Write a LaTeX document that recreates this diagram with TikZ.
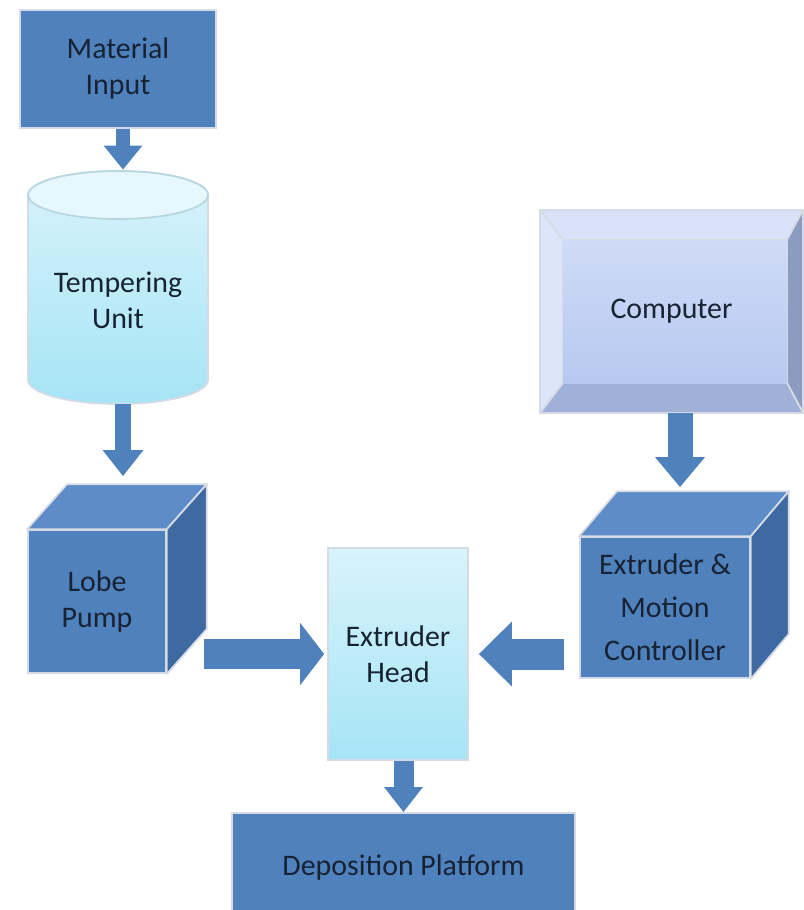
\documentclass[tikz,border=0pt]{standalone}
\usepackage{fontspec}
\setmainfont{Carlito}
\usepackage{tikz}
\usetikzlibrary{positioning}
\usetikzlibrary{calc, arrows.meta}

\definecolor{boxblue}{HTML}{4F81BD}
\definecolor{boxtop}{HTML}{5D8CC8}
\definecolor{boxside}{HTML}{3F69A1}
\definecolor{edgegrey}{HTML}{D5DBE4}
\definecolor{labelink}{HTML}{172233}
\definecolor{cyanlight}{HTML}{D8F3FB}
\definecolor{cyandeep}{HTML}{A6E4F6}
\definecolor{cyanlid}{HTML}{E6F8FD}
\definecolor{lidedge}{HTML}{B8D6E0}
\definecolor{pclight}{HTML}{CFDBF7}
\definecolor{pcdeep}{HTML}{B7C9F0}
\definecolor{bevtop}{HTML}{D8E2F9}
\definecolor{bevleft}{HTML}{DCE6FB}
\definecolor{bevright}{HTML}{8C9CC0}
\definecolor{bevbottom}{HTML}{A0B1D9}

\tikzstyle{blocktext} = [text=labelink, font=\fontsize{17}{20.5}\selectfont, align=center]
\tikzstyle{darkbox} = [rectangle, fill=boxblue, draw=edgegrey, line width=1pt, inner sep=0pt, blocktext]
\tikzstyle{lightbox} = [rectangle, top color=cyanlight, bottom color=cyandeep, draw=edgegrey, line width=1pt, inner sep=0pt, blocktext]
\tikzstyle{cubeedge} = [draw=edgegrey, line width=1pt, line join=round]
\tikzset{blockarrow/.style n args={3}{draw=boxblue, line width=#1, -{Triangle[width=#2, length=#3]}}}

\begin{document}
\begin{tikzpicture}[x=0.02cm, y=-0.02cm]
	\useasboundingbox (0,0) rectangle (804,910);
	\clip (0,0) rectangle (804,910);

	%Cylinder
	\filldraw[top color=cyanlight, bottom color=cyandeep, draw=edgegrey, line width=1pt]
		(28,195) -- (28,380) arc[start angle=180, end angle=360, x radius=1.8cm, y radius=0.48cm]
		-- (208,195) arc[start angle=0, end angle=180, x radius=1.8cm, y radius=0.48cm] -- cycle;
	\filldraw[fill=cyanlid, draw=lidedge, line width=1pt] (118,195) ellipse [x radius=1.8cm, y radius=0.48cm];

	%Bevel
	\filldraw[cubeedge, fill=bevtop] (540,210) -- (803,210) -- (787,240) -- (563,240) -- cycle;
	\filldraw[cubeedge, fill=bevleft] (540,210) -- (563,240) -- (563,383) -- (540,413) -- cycle;
	\filldraw[cubeedge, fill=bevright] (803,210) -- (803,413) -- (787,383) -- (787,240) -- cycle;
	\filldraw[cubeedge, fill=bevbottom] (540,413) -- (803,413) -- (787,383) -- (563,383) -- cycle;
	\shade[top color=pclight, bottom color=pcdeep] (563,240) rectangle (787,383);

	%Nodes
	\node[darkbox, minimum width=3.92cm, minimum height=2.36cm] (input) at (118,69) {Material\\Input};
	\node[minimum width=3.6cm, minimum height=4.68cm, inner sep=0pt] (temper) at (118,287) {};
	\node[blocktext] (temperText) at ($(temper.center)+(0,13)$) {Tempering\\Unit};
	\node[darkbox, minimum width=2.76cm, minimum height=2.86cm] (pump) at (97,601.5) {Lobe\\Pump};
	\node[lightbox, minimum width=2.8cm, minimum height=4.24cm] (head) at (398,654) {Extruder\\Head};
	\node[darkbox, minimum width=6.86cm, minimum height=2.2cm] (deposit) at (403.5,868) {Deposition Platform};
	\node[blocktext, minimum width=5.26cm, minimum height=4.06cm, inner sep=0pt] (computer) at (671.5,311.5) {Computer};
	\node[darkbox, minimum width=3.4cm, minimum height=2.82cm, font=\fontsize{17}{24.5}\selectfont] (ctrl) at (665,607.5) {Extruder \&\\Motion\\Controller};

	%Cube faces
	\filldraw[cubeedge, fill=boxtop] (pump.north west) -- ++(40,-45) -- ($(pump.north east)+(40,-45)$) -- (pump.north east) -- cycle;
	\filldraw[cubeedge, fill=boxside] (pump.north east) -- ++(40,-45) -- ($(pump.south east)+(40,-45)$) -- (pump.south east) -- cycle;
	\filldraw[cubeedge, fill=boxtop] (ctrl.north west) -- ++(38,-45) -- ($(ctrl.north east)+(38,-45)$) -- (ctrl.north east) -- cycle;
	\filldraw[cubeedge, fill=boxside] (ctrl.north east) -- ++(38,-45) -- ($(ctrl.south east)+(38,-45)$) -- (ctrl.south east) -- cycle;

	%Arrows
	\draw[blockarrow={0.3cm}{0.74cm}{0.48cm}] ($(input.south)+(5,0)$) -- ($(temper.north)+(5,0)$);
	\draw[blockarrow={0.34cm}{0.78cm}{0.52cm}] ($(temper.south)+(5,0)$) -- ($(temper.south |- pump.north)+(5,-53)$);
	\draw[blockarrow={0.6cm}{1.22cm}{0.48cm}, shorten <=0.74cm, shorten >=0.06cm] (pump.east |- head.west) -- (head.west);
	\draw[blockarrow={0.62cm}{1.26cm}{0.66cm}, shorten <=0.3cm, shorten >=0.2cm] (ctrl.west |- head.east) -- (head.east);
	\draw[blockarrow={0.5cm}{0.96cm}{0.6cm}] ($(computer.south)+(8.5,0)$) -- ($(computer.south |- ctrl.north)+(8.5,-49)$);
	\draw[blockarrow={0.4cm}{0.74cm}{0.5cm}] (head.south -| deposit.north) -- (deposit.north);
\end{tikzpicture}
\end{document}
